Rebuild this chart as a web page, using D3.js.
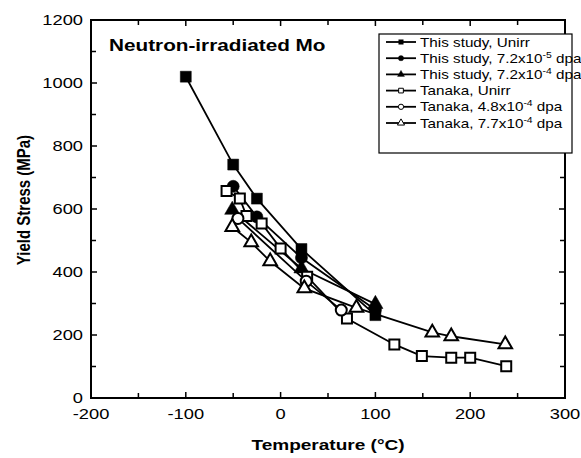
<!DOCTYPE html>
<html>
<head>
<meta charset="utf-8">
<script src="https://cdn.jsdelivr.net/npm/d3@7"></script>
<style>
  body { margin: 0; background: #fff; }
  svg { display: block; font-family: "Liberation Sans", Arial, sans-serif; }
</style>
</head>
<body>
<div id="chart"></div>
<script>
// data
var studyUnirrT = [-100, -50, -25, 22, 100];
var studyUnirrY = [1020, 741, 633, 473, 263];
var study72e5T = [-50, -25, 22, 100];
var study72e5Y = [672, 575, 445, 280];
var study72e4T = [-51, 22, 100];
var study72e4Y = [597, 411, 298];
var tanakaUnirrT = [-57, -43, -36, -20, 0, 28, 70, 120, 149, 180, 200, 238];
var tanakaUnirrY = [657, 633, 578, 554, 475, 385, 252, 170, 133, 128, 128, 101];
var tanaka48e4T = [-45, 27, 64];
var tanaka48e4Y = [570, 371, 279];
var tanaka77e4T = [-51, -31, -11, 25, 80, 160, 180, 237];
var tanaka77e4Y = [543, 494, 434, 348, 286, 208, 196, 170];

var seriesNames = ["This study, Unirr", "This study, 7.2x10|-5| dpa", "This study, 7.2x10|-4| dpa",
                   "Tanaka, Unirr", "Tanaka, 4.8x10|-4| dpa", "Tanaka, 7.7x10|-4| dpa"];
var xTicks = [-200, -100, 0, 100, 200, 300];
var yTicks = [0, 200, 400, 600, 800, 1000, 1200];

var series = [
  {t: studyUnirrT, y: studyUnirrY, shape: d3.symbolSquare, fill: true},
  {t: study72e5T, y: study72e5Y, shape: d3.symbolCircle, fill: true},
  {t: study72e4T, y: study72e4Y, shape: d3.symbolTriangle, fill: true},
  {t: tanakaUnirrT, y: tanakaUnirrY, shape: d3.symbolSquare, fill: false},
  {t: tanaka48e4T, y: tanaka48e4Y, shape: d3.symbolCircle, fill: false},
  {t: tanaka77e4T, y: tanaka77e4Y, shape: d3.symbolTriangle, fill: false}
];

var W = 581, H = 458;
var pL = 91, pR = 565, pT = 20, pB = 398;
var SX = 1.22; // text in the figure is a bit wider than normal

var svg = d3.select("#chart").append("svg").attr("width", W).attr("height", H);

var x = d3.scaleLinear().domain([-200, 300]).range([pL, pR]);
var y = d3.scaleLinear().domain([0, 1200]).range([pB, pT]);

// wide text helper
function wtext(px, py, size, anchor, sx) {
  return svg.append("text")
    .attr("transform", "translate(" + px + "," + py + ") scale(" + (sx || SX) + ",1)")
    .attr("text-anchor", anchor).attr("font-size", size);
}

// ticks (inward) on all four sides
var g = svg.append("g");
var xMinor = d3.range(-200, 301, 50), yMinor = d3.range(0, 1201, 100);
xMinor.forEach(function(v) {
  var len = v % 100 === 0 ? 6 : 5;
  g.append("line").attr("x1", x(v)).attr("x2", x(v)).attr("y1", pB).attr("y2", pB - len).attr("stroke", "#000").attr("stroke-width", 1.5);
  g.append("line").attr("x1", x(v)).attr("x2", x(v)).attr("y1", pT).attr("y2", pT + len).attr("stroke", "#000").attr("stroke-width", 1.5);
});
yMinor.forEach(function(v) {
  var len = v % 200 === 0 ? 6 : 5;
  g.append("line").attr("x1", pL).attr("x2", pL + len).attr("y1", y(v)).attr("y2", y(v)).attr("stroke", "#000").attr("stroke-width", 1.5);
  g.append("line").attr("x1", pR).attr("x2", pR - len).attr("y1", y(v)).attr("y2", y(v)).attr("stroke", "#000").attr("stroke-width", 1.5);
});

svg.append("rect").attr("x", pL).attr("y", pT).attr("width", pR - pL).attr("height", pB - pT)
  .attr("fill", "none").attr("stroke", "#000").attr("stroke-width", 2);

// tick labels
xTicks.forEach(function(d) { wtext(x(d), pB + 21, 15, "middle").text(d); });
yTicks.forEach(function(d) { wtext(pL - 8, y(d) + 5, 15, "end").text(d); });

// axis titles
wtext(x(50), 450, 15, "middle", 1.27).attr("font-weight", "bold").text("Temperature (\u00B0C)");
svg.append("text").attr("transform", "translate(30,200) scale(1.25,1) rotate(-90)")
  .attr("text-anchor", "middle").attr("font-size", 15).attr("font-weight", "bold").text("Yield Stress (MPa)");

wtext(109, 51, 17, "start").attr("font-weight", "bold").text("Neutron-irradiated Mo");

// series
var line = d3.line().x(function(d) { return x(d[0]); }).y(function(d) { return y(d[1]); });
series.forEach(function(s) {
  var pts = s.t.map(function(t, i) { return [t, s.y[i]]; });
  svg.append("path").datum(pts).attr("d", line).attr("fill", "none").attr("stroke", "#000").attr("stroke-width", 1.8);
});
series.forEach(function(s) {
  var pts = s.t.map(function(t, i) { return [t, s.y[i]]; });
  var size = s.shape === d3.symbolCircle ? 95 : (s.shape === d3.symbolTriangle ? 80 : 100);
  svg.selectAll(null).data(pts).enter().append("path")
    .attr("d", d3.symbol().type(s.shape).size(s.fill ? size + 20 : size))
    .attr("transform", function(d) { return "translate(" + x(d[0]) + "," + y(d[1]) + ")"; })
    .attr("fill", s.fill ? "#000" : "#fff").attr("stroke", "#000").attr("stroke-width", s.fill ? 0.5 : 2);
});

// legend
var lg = svg.append("g");
lg.append("rect").attr("x", 379).attr("y", 34).attr("width", 193).attr("height", 119)
  .attr("fill", "#fff").attr("stroke", "#000").attr("stroke-width", 1.2);
seriesNames.forEach(function(name, i) {
  var yy = 42 + i * 16.2;
  lg.append("line").attr("x1", 386).attr("x2", 416).attr("y1", yy).attr("y2", yy).attr("stroke", "#000").attr("stroke-width", 1.8);
  var s = series[i];
  lg.append("path").attr("d", d3.symbol().type(s.shape).size(22))
    .attr("transform", "translate(401," + yy + ")")
    .attr("fill", s.fill ? "#000" : "#fff").attr("stroke", "#000").attr("stroke-width", s.fill ? 0.3 : 1);
  var parts = name.split("|");
  var t = wtext(420, yy + 4.5, 12.5, "start");
  t.append("tspan").text(parts[0]);
  if (parts.length > 1) {
    t.append("tspan").attr("dy", -5).attr("font-size", 8.5).text(parts[1]);
    t.append("tspan").attr("dy", 5).text(parts[2]);
  }
});
</script>
</body>
</html>
